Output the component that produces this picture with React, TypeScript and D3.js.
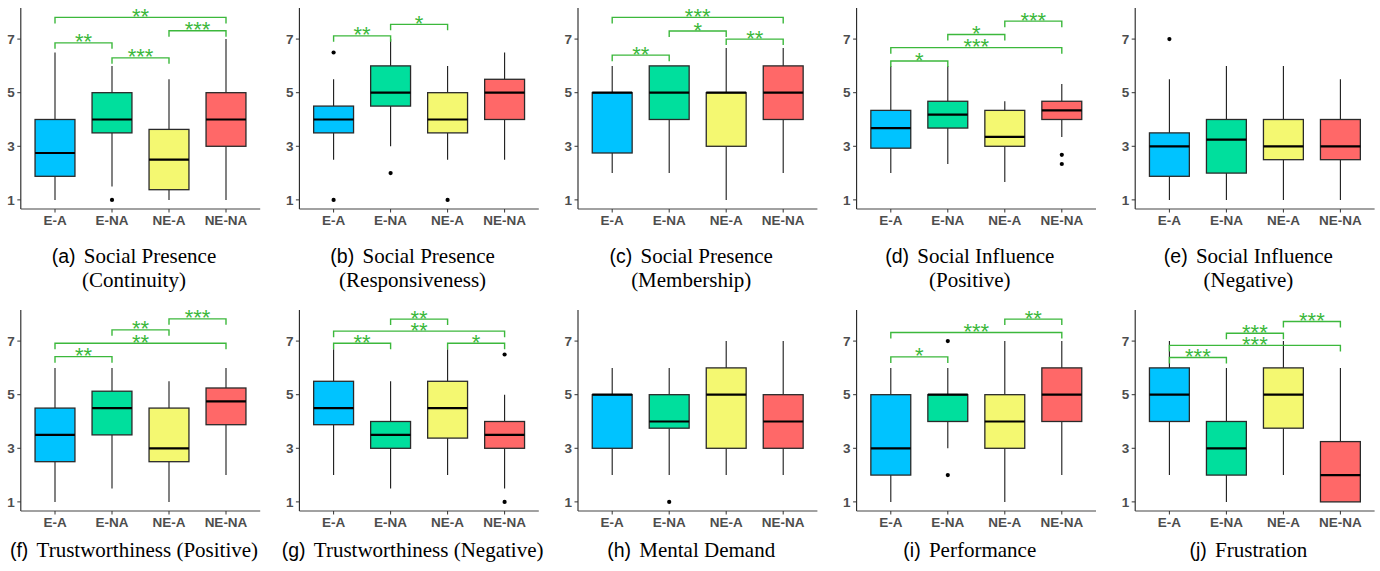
import * as d3 from "d3";

const categories = ["E-A", "E-NA", "NE-A", "NE-NA"];
const fills = ["#00C3FF", "#00DF9D", "#F4F871", "#FF6868"];
const yTicks = [1, 3, 5, 7];

// each box: [lower whisker, q1, median, q3, upper whisker]
const continuityBoxes = [[1, 1.88, 2.75, 4, 6.5], [1.5, 3.5, 4, 5, 6], [1, 1.38, 2.5, 3.63, 5.5], [1, 3, 4, 5, 7]];
const continuityOutliers = [[], [1], [], []];
const continuitySig = [[0, 1, 6.86, "**"], [1, 2, 6.3, "***"], [2, 3, 7.31, "***"], [0, 3, 7.81, "**"]];

const responsiveBoxes = [[2.5, 3.5, 4, 4.5, 5.5], [3, 4.5, 5, 6, 7], [2.5, 3.5, 4, 5, 6], [2.5, 4, 5, 5.5, 6.5]];
const responsiveOutliers = [[6.5, 1], [2], [1], []];
const responsiveSig = [[0, 1, 7.12, "**"], [1, 2, 7.55, "*"]];

const membershipBoxes = [[2, 2.75, 5, 5, 6], [2, 4, 5, 6, 6], [1, 3, 5, 5, 6.67], [2, 4, 5, 6, 6.67]];
const membershipOutliers = [[], [], [], []];
const membershipSig = [[0, 1, 6.4, "**"], [1, 2, 7.3, "*"], [2, 3, 7.0, "**"], [0, 3, 7.81, "***"]];

const influencePosBoxes = [[2, 2.93, 3.68, 4.34, 6], [2.34, 3.68, 4.18, 4.68, 6], [1.67, 3, 3.35, 4.34, 4.68], [3.35, 4, 4.34, 4.68, 5.32]];
const influencePosOutliers = [[], [], [], [2.68, 2.34]];
const influencePosSig = [[0, 1, 6.18, "*"], [0, 3, 6.68, "***"], [1, 2, 7.17, "*"], [2, 3, 7.67, "***"]];

const influenceNegBoxes = [[1, 1.88, 3, 3.5, 5.5], [1, 2, 3.25, 4, 6], [1, 2.5, 3, 4, 6], [1, 2.5, 3, 4, 5.5]];
const influenceNegOutliers = [[7], [], [], []];
const influenceNegSig = [];

const trustPosBoxes = [[1, 2.5, 3.5, 4.5, 6], [1.5, 3.5, 4.5, 5.13, 6], [1, 2.5, 3, 4.5, 5.5], [2, 3.88, 4.75, 5.25, 6]];
const trustPosOutliers = [[], [], [], []];
const trustPosSig = [[0, 1, 6.42, "**"], [0, 3, 6.92, "**"], [1, 2, 7.42, "**"], [2, 3, 7.83, "***"]];

const trustNegBoxes = [[2, 3.88, 4.5, 5.5, 6.7], [1.5, 3, 3.5, 4, 5.5], [2, 3.38, 4.5, 5.5, 6.7], [1.5, 3, 3.5, 4, 5]];
const trustNegOutliers = [[], [], [], [6.5, 1]];
const trustNegSig = [[0, 1, 6.92, "**"], [2, 3, 6.92, "*"], [0, 3, 7.37, "**"], [1, 2, 7.82, "**"]];

const mentalBoxes = [[2, 3, 5, 5, 6], [2, 3.75, 4, 5, 6], [2, 3, 5, 6, 7], [2, 3, 4, 5, 7]];
const mentalOutliers = [[], [1], [], []];
const mentalSig = [];

const performanceBoxes = [[1, 2, 3, 5, 6], [3, 4, 5, 5, 6], [1, 3, 4, 5, 7], [2, 4, 5, 6, 7]];
const performanceOutliers = [[], [7, 2], [], []];
const performanceSig = [[0, 1, 6.41, "*"], [0, 3, 7.32, "***"], [2, 3, 7.82, "**"]];

const frustrationBoxes = [[2, 4, 5, 6, 7], [1, 2, 3, 4, 6], [2, 3.75, 5, 6, 7], [1, 1, 2, 3.25, 6]];
const frustrationOutliers = [[], [], [], []];
const frustrationSig = [[0, 1, 6.39, "***"], [0, 3, 6.84, "***"], [1, 2, 7.29, "***"], [2, 3, 7.73, "***"]];

const panels = [
  { tag: "(a)", title: ["Social Presence", "(Continuity)"], boxes: continuityBoxes, outliers: continuityOutliers, sig: continuitySig },
  { tag: "(b)", title: ["Social Presence", "(Responsiveness)"], boxes: responsiveBoxes, outliers: responsiveOutliers, sig: responsiveSig },
  { tag: "(c)", title: ["Social Presence", "(Membership)"], boxes: membershipBoxes, outliers: membershipOutliers, sig: membershipSig },
  { tag: "(d)", title: ["Social Influence", "(Positive)"], boxes: influencePosBoxes, outliers: influencePosOutliers, sig: influencePosSig },
  { tag: "(e)", title: ["Social Influence", "(Negative)"], boxes: influenceNegBoxes, outliers: influenceNegOutliers, sig: influenceNegSig },
  { tag: "(f)", title: ["Trustworthiness (Positive)"], boxes: trustPosBoxes, outliers: trustPosOutliers, sig: trustPosSig },
  { tag: "(g)", title: ["Trustworthiness (Negative)"], boxes: trustNegBoxes, outliers: trustNegOutliers, sig: trustNegSig },
  { tag: "(h)", title: ["Mental Demand"], boxes: mentalBoxes, outliers: mentalOutliers, sig: mentalSig },
  { tag: "(i)", title: ["Performance"], boxes: performanceBoxes, outliers: performanceOutliers, sig: performanceSig },
  { tag: "(j)", title: ["Frustration"], boxes: frustrationBoxes, outliers: frustrationOutliers, sig: frustrationSig },
];

const green = "#3CB83C";
const axisGrey = "#4D4D4D";
const sans = "Liberation Sans, Arial, sans-serif";
const serif = "Liberation Serif, Times New Roman, serif";

const Panel = ({ p, x0, y0, capY }: any) => {
  const x = d3.scalePoint<string>().domain(categories).range([x0 + 55, x0 + 226]);
  const y = d3.scaleLinear().domain([0.66, 8.16]).range([y0 + 201, y0]);
  const step = x.step();
  const bw = step * 0.7;
  const left = x0 + 55 - step * 0.6;
  const right = x0 + 226 + step * 0.6;
  const bottom = y(0.66);
  const tip = 6;

  return (
    <g>
      {p.boxes.map((b: number[], i: number) => {
        const cx = x(categories[i])!;
        return (
          <g key={i}>
            <line x1={cx} x2={cx} y1={y(b[0])} y2={y(b[1])} stroke="#1a1a1a" strokeWidth={1.1} />
            <line x1={cx} x2={cx} y1={y(b[3])} y2={y(b[4])} stroke="#1a1a1a" strokeWidth={1.1} />
            <rect x={cx - bw / 2} y={y(b[3])} width={bw} height={y(b[1]) - y(b[3])} fill={fills[i]} stroke="#2a2a2a" strokeWidth={1.3} />
            <line x1={cx - bw / 2} x2={cx + bw / 2} y1={y(b[2])} y2={y(b[2])} stroke="#000" strokeWidth={2.2} />
            {p.outliers[i].map((o: number, j: number) => (
              <circle key={j} cx={cx} cy={y(o)} r={2.1} fill="#000" />
            ))}
          </g>
        );
      })}
      {p.sig.map((s: any[], k: number) => {
        const xa = x(categories[s[0]])!;
        const xb = x(categories[s[1]])!;
        const yy = y(s[2]);
        return (
          <g key={k}>
            <path d={`M${xa},${yy + tip}V${yy}H${xb}V${yy + tip}`} fill="none" stroke={green} strokeWidth={1.4} />
            <text x={(xa + xb) / 2} y={yy + 6.5} textAnchor="middle" fill={green} fontSize={22} fontFamily={sans}>
              {s[3]}
            </text>
          </g>
        );
      })}
      <line x1={left} x2={left} y1={y0} y2={bottom} stroke="#222" strokeWidth={1.1} />
      <line x1={left} x2={right} y1={bottom} y2={bottom} stroke="#444" strokeWidth={1.1} />
      {yTicks.map((t) => (
        <g key={t}>
          <line x1={left - 3.5} x2={left} y1={y(t)} y2={y(t)} stroke="#333" strokeWidth={1} />
          <text x={left - 6} y={y(t)} dy="0.35em" textAnchor="end" fill={axisGrey} fontWeight="bold" fontSize={13.5} fontFamily={sans}>
            {t}
          </text>
        </g>
      ))}
      {categories.map((c) => (
        <g key={c}>
          <line x1={x(c)} x2={x(c)} y1={bottom} y2={bottom + 3.5} stroke="#333" strokeWidth={1} />
          <text x={x(c)} y={bottom + 16} textAnchor="middle" fill={axisGrey} fontWeight="bold" fontSize={13.5} fontFamily={sans}>
            {c}
          </text>
        </g>
      ))}
      <text x={x0 + 134} y={capY} textAnchor="middle" fill="#000" fontSize={21} fontFamily={serif}>
        <tspan fontFamily={sans} fontSize={19.5}>{p.tag}</tspan>
        <tspan dx={3}>{"\u00a0" + p.title[0]}</tspan>
      </text>
      {p.title[1] && (
        <text x={x0 + 134} y={capY + 24} textAnchor="middle" fill="#000" fontSize={21} fontFamily={serif}>
          {p.title[1]}
        </text>
      )}
    </g>
  );
};

export default function App() {
  const pitch = 278.6;
  return (
    <svg width={1380} height={571} style={{ position: "absolute", left: 0, top: 0, background: "#fff" }}>
      {panels.map((p, i) => {
        const row = i < 5 ? 0 : 1;
        const col = i % 5;
        return <Panel key={i} p={p} x0={col * pitch} y0={row === 0 ? 8 : 310} capY={row === 0 ? 263 : 557} />;
      })}
    </svg>
  );
}
